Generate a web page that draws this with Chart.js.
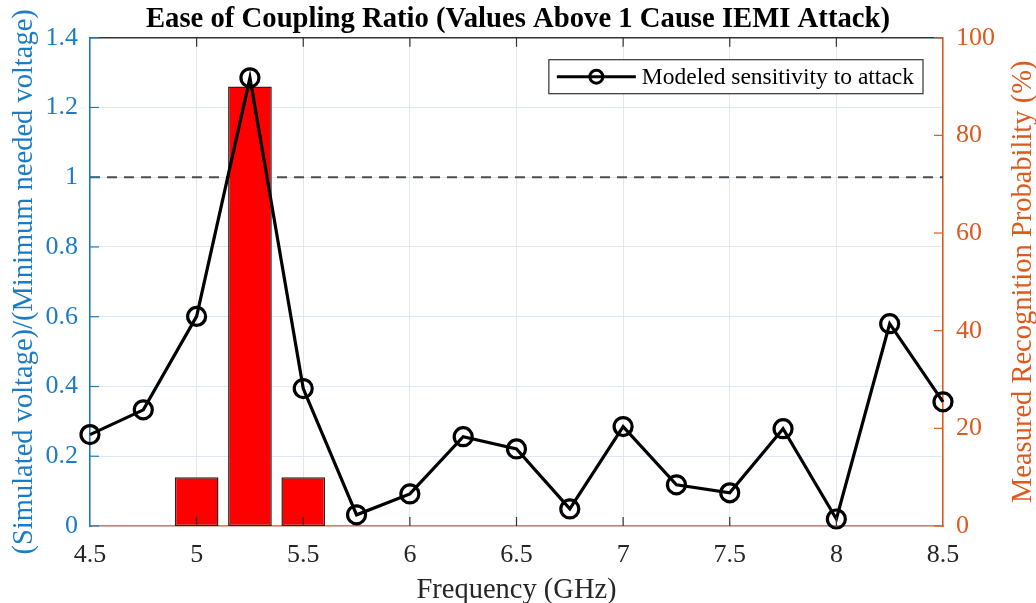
<!DOCTYPE html>
<html>
<head>
<meta charset="utf-8">
<script src="https://cdn.jsdelivr.net/npm/chart.js@4.4.1/dist/chart.umd.min.js"></script>
<style>
  html, body { margin: 0; padding: 0; background: #fff; }
  #wrap { width: 1036px; height: 603px; }
</style>
</head>
<body>
<div id="wrap"><canvas id="myChart" width="1036" height="603"></canvas></div>
<script>
// values
const freqs = [4.5, 4.75, 5, 5.25, 5.5, 5.75, 6, 6.25, 6.5, 6.75, 7, 7.25, 7.5, 7.75, 8, 8.25, 8.5];
const ratio = [0.262, 0.333, 0.601, 1.285, 0.394, 0.032, 0.092, 0.256, 0.221, 0.049, 0.285, 0.118, 0.095, 0.279, 0.02, 0.58, 0.356];
const barFreqs = [5, 5.25, 5.5];
const recognition = [10, 90, 10];
const threshold = 1;

// tick labels
const freqTicks = [4.5, 5, 5.5, 6, 6.5, 7, 7.5, 8, 8.5];
const ratioTicks = [0, 0.2, 0.4, 0.6, 0.8, 1, 1.2, 1.4];
const probTicks = [0, 20, 40, 60, 80, 100];

const titleText = 'Ease of Coupling Ratio (Values Above 1 Cause IEMI Attack)';
const leftTitle = '(Simulated voltage)/(Minimum needed voltage)';
const rightTitle = 'Measured Recognition Probability (%)';
const xTitle = 'Frequency (GHz)';

const blue = '#1b7cc3';
const orange = '#dc5a1e';
const serif = '"Liberation Serif", "Times New Roman", serif';

Chart.defaults.font.family = serif;

// frame, inward ticks, boxed legend and the right axis title
const extras = {
  id: 'extras',
  afterDatasetsDraw(chart) {
    const { ctx, chartArea: a, scales } = chart;
    const len = 9;
    ctx.save();
    ctx.strokeStyle = '#333';
    ctx.lineWidth = 1.5;
    ctx.beginPath();
    ctx.moveTo(a.left, a.top);
    ctx.lineTo(a.right, a.top);
    ctx.stroke();

    ctx.lineWidth = 1.2;
    scales.x.ticks.forEach((t, i) => {
      if (i === 0 || i === scales.x.ticks.length - 1) return;
      const px = scales.x.getPixelForValue(t.value);
      ctx.beginPath();
      ctx.moveTo(px, a.bottom); ctx.lineTo(px, a.bottom - len);
      ctx.moveTo(px, a.top); ctx.lineTo(px, a.top + len);
      ctx.stroke();
    });
    ctx.strokeStyle = blue;
    scales.y.ticks.forEach((t) => {
      const py = scales.y.getPixelForValue(t.value);
      ctx.beginPath();
      ctx.moveTo(a.left, py); ctx.lineTo(a.left + len, py);
      ctx.stroke();
    });
    ctx.strokeStyle = orange;
    scales.y2.ticks.forEach((t) => {
      const py = scales.y2.getPixelForValue(t.value);
      ctx.beginPath();
      ctx.moveTo(a.right - len, py); ctx.lineTo(a.right, py);
      ctx.stroke();
    });
    ctx.restore();
  },
  afterDraw(chart) {
    const { ctx, chartArea: a } = chart;
    ctx.save();
    // legend
    ctx.font = '23.5px ' + serif;
    const label = chart.data.datasets[0].label;
    const tw = ctx.measureText(label).width;
    const sample = 79, padL = 8, gap = 6, padR = 9, h = 34;
    const w = padL + sample + gap + tw + padR;
    const x0 = a.right - 20 - w, y0 = a.top + 22;
    ctx.fillStyle = '#fff';
    ctx.fillRect(x0, y0, w, h);
    ctx.strokeStyle = '#333';
    ctx.lineWidth = 1.2;
    ctx.strokeRect(x0, y0, w, h);
    const cy = y0 + h / 2;
    ctx.strokeStyle = '#000';
    ctx.lineWidth = 3;
    ctx.beginPath();
    ctx.moveTo(x0 + padL, cy); ctx.lineTo(x0 + padL + sample, cy);
    ctx.stroke();
    ctx.beginPath();
    ctx.arc(x0 + padL + sample / 2, cy, 6.5, 0, Math.PI * 2);
    ctx.stroke();
    ctx.fillStyle = '#000';
    ctx.textAlign = 'left';
    ctx.textBaseline = 'middle';
    ctx.fillText(label, x0 + padL + sample + gap, cy + 1);

    // right axis title, reading bottom to top
    const y2 = chart.scales.y2;
    ctx.font = '28.5px ' + serif;
    ctx.fillStyle = orange;
    ctx.textAlign = 'center';
    ctx.translate(y2.right - 12, (a.top + a.bottom) / 2);
    ctx.rotate(-Math.PI / 2);
    ctx.fillText(rightTitle, 0, 0);
    ctx.restore();
  }
};

const data = {
  datasets: [
    {
      type: 'line',
      label: 'Modeled sensitivity to attack',
      data: freqs.map((f, i) => ({ x: f, y: ratio[i] })),
      yAxisID: 'y',
      borderColor: '#000',
      borderWidth: 3.2,
      pointRadius: 9,
      pointBorderWidth: 3.2,
      pointBorderColor: '#000',
      pointBackgroundColor: 'rgba(0,0,0,0)',
      tension: 0,
      clip: false,
      order: 1
    },
    {
      type: 'bar',
      label: 'Measured recognition probability',
      data: barFreqs.map((f, i) => ({ x: f, y: recognition[i] })),
      yAxisID: 'y2',
      backgroundColor: '#ff0000',
      borderColor: '#262626',
      borderWidth: 1.5,
      borderSkipped: false,
      barPercentage: 0.82,
      categoryPercentage: 1,
      order: 2
    },
    {
      type: 'line',
      label: 'threshold',
      data: [
        { x: freqTicks[0], y: threshold },
        { x: freqTicks[freqTicks.length - 1], y: threshold }
      ],
      yAxisID: 'y',
      borderColor: '#4d4d4d',
      borderWidth: 2,
      borderDash: [10, 7],
      pointRadius: 0,
      order: 3
    }
  ]
};

const config = {
  type: 'line',
  data: data,
  options: {
    responsive: false,
    animation: false,
    devicePixelRatio: 1,
    layout: { padding: 0 },
    plugins: {
      legend: { display: false },
      tooltip: { enabled: false },
      title: {
        display: true,
        text: titleText,
        color: '#000',
        font: { size: 28.7, weight: 'bold', lineHeight: 1 },
        padding: { top: 5, bottom: 4 }
      }
    },
    scales: {
      x: {
        type: 'linear',
        min: 4.5,
        max: 8.5,
        offset: false,
        afterBuildTicks: (s) => { s.ticks = freqTicks.map((v) => ({ value: v })); },
        afterFit: (s) => { s.height = 77; },
        ticks: { color: '#262626', font: { size: 26 }, padding: 14, maxRotation: 0, autoSkip: false, callback: (v) => String(v) },
        grid: { color: '#e3e6ea', drawTicks: false, offset: false },
        border: { color: '#e8784a', width: 1.5 },
        title: { display: true, text: xTitle, color: '#262626', font: { size: 28.5, lineHeight: 1 }, padding: { top: 0, bottom: -2 } }
      },
      y: {
        position: 'left',
        min: 0,
        max: 1.4,
        afterBuildTicks: (s) => { s.ticks = ratioTicks.map((v) => ({ value: v })); },
        afterFit: (s) => { s.width = 90; },
        ticks: { color: blue, font: { size: 26 }, padding: 12, callback: (v) => String(v) },
        grid: { color: '#dce9f5', drawTicks: false },
        border: { color: blue, width: 1.5 },
        title: { display: true, text: leftTitle, color: blue, font: { size: 28.5, lineHeight: 1 }, padding: { top: 10, bottom: 0 } }
      },
      y2: {
        position: 'right',
        min: 0,
        max: 100,
        afterBuildTicks: (s) => { s.ticks = probTicks.map((v) => ({ value: v })); },
        afterFit: (s) => { s.width = 93; },
        ticks: { color: orange, font: { size: 26 }, padding: 13, callback: (v) => String(v) },
        grid: { display: false, drawTicks: false },
        border: { color: orange, width: 1.5 }
      }
    }
  },
  plugins: [extras]
};

const context = document.getElementById('myChart').getContext('2d');
const chart = new Chart(context, config);
</script>
</body>
</html>
